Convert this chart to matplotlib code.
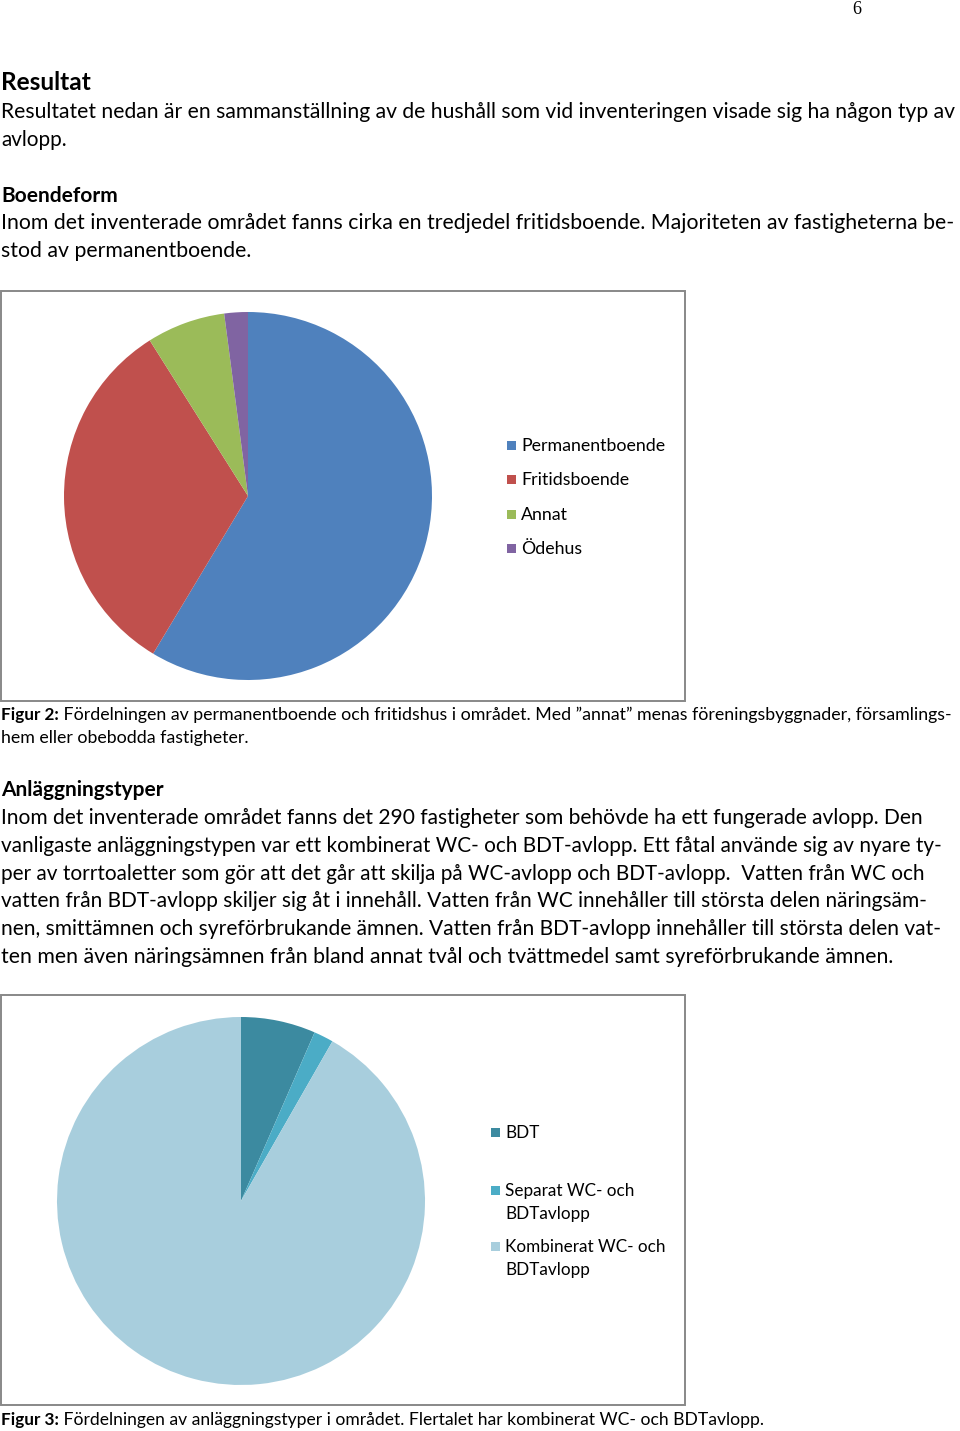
import matplotlib.pyplot as plt
from matplotlib.patches import Rectangle

W, H = 960, 1431
FONT = ['Lato', 'DejaVu Sans']

# Boendeform (antal fastigheter)
boende_labels = ['Permanentboende', 'Fritidsboende', 'Annat', 'Ödehus']
boende_counts = [170, 94, 20, 6]
boende_colors = ['#4F81BD', '#C0504D', '#9BBB59', '#8064A2']

# Anläggningstyper (antal fastigheter)
anl_labels = ['BDT', 'Separat WC- och\nBDTavlopp', 'Kombinerat WC- och\nBDTavlopp']
anl_counts = [19, 5, 266]
anl_colors = ['#3C8AA0', '#4BACC6', '#A8CEDD']

fig = plt.figure(figsize=(W / 100, H / 100), dpi=100)
r = fig.canvas.get_renderer()


def fx(x):
    return x / W


def fy(y):
    return 1 - y / H


def put(x, y, s, size, weight='normal', fit=None, family=FONT, **kw):
    t = fig.text(fx(x), fy(y + 1), s, fontsize=size, fontweight=weight,
                 family=family, va='center', ha='left', **kw)
    if fit:
        w = t.get_window_extent(r).width
        t.set_fontsize(size * fit / w)
    return t


def fitsize(s, size, width):
    t = fig.text(0, 0, s, fontsize=size, family=FONT)
    w = t.get_window_extent(r).width
    t.remove()
    return size * width / w


def caption(y, bold, rest, end):
    b = put(1, y, bold, 12.3, weight='bold')
    x0 = b.get_window_extent(r).x1
    put(x0, y, rest, 11.5, fit=end - x0)


# sidnummer
put(852, 9, '6', 13, family=['Liberation Serif'])

# text
put(1, 82, 'Resultat', 16, weight='bold', fit=90)
put(1, 111, 'Resultatet nedan är en sammanställning av de hushåll som vid inventeringen visade sig ha någon typ av', 14, fit=956)
put(1, 139, 'avlopp.', 14, fit=66)
put(1, 195, 'Boendeform', 14, weight='bold', fit=117)
put(1, 222, 'Inom det inventerade området fanns cirka en tredjedel fritidsboende. Majoriteten av fastigheterna be-', 14, fit=951)
put(1, 250, 'stod av permanentboende.', 14, fit=251)

caption(714, 'Figur 2:', ' Fördelningen av permanentboende och fritidshus i området. Med ”annat” menas föreningsbyggnader, församlings-', 952)
put(1, 737, 'hem eller obebodda fastigheter.', 11.5, fit=247)

put(1, 789, 'Anläggningstyper', 14, weight='bold', fit=164)
body = [
    ('Inom det inventerade området fanns det 290 fastigheter som behövde ha ett fungerade avlopp. Den', 929),
    ('vanligaste anläggningstypen var ett kombinerat WC- och BDT-avlopp. Ett fåtal använde sig av nyare ty-', 947),
    ('per av torrtoaletter som gör att det går att skilja på WC-avlopp och BDT-avlopp.  Vatten från WC och', 928),
    ('vatten från BDT-avlopp skiljer sig åt i innehåll. Vatten från WC innehåller till största delen näringsäm-', 930),
    ('nen, smittämnen och syreförbrukande ämnen. Vatten från BDT-avlopp innehåller till största delen vat-', 945),
    ('ten men även näringsämnen från bland annat tvål och tvättmedel samt syreförbrukande ämnen.', 894),
]
for i, (line, end) in enumerate(body):
    put(1, 817 + i * 27.8, line, 14, fit=end - 1)

caption(1419, 'Figur 3:', ' Fördelningen av anläggningstyper i området. Flertalet har kombinerat WC- och BDTavlopp.', 762)

# ramar kring diagrammen
for top in (291, 995):
    fig.add_artist(Rectangle((fx(1), fy(top + 410)), 684 / W, 410 / H,
                             transform=fig.transFigure, fill=False,
                             edgecolor='#888888', linewidth=1.4))

# diagram 1
ax1 = fig.add_axes([fx(64), fy(680), 368 / W, 368 / H])
w1, _ = ax1.pie(boende_counts, colors=boende_colors, startangle=90,
                counterclock=False, wedgeprops={'linewidth': 0})
ax1.set_xlim(-1, 1)
ax1.set_ylim(-1, 1)

leg1 = fitsize('Permanentboende', 12, 144)
for i, (lab, w) in enumerate(zip(boende_labels, w1)):
    y = 445 + i * 34.3
    fig.add_artist(Rectangle((fx(507), fy(y + 5)), 9 / W, 9 / H,
                             transform=fig.transFigure, color=w.get_facecolor(), lw=0))
    put(521, y, lab, leg1)

# diagram 2
ax2 = fig.add_axes([fx(57), fy(1385), 368 / W, 368 / H])
w2, _ = ax2.pie(anl_counts, colors=anl_colors, startangle=90,
                counterclock=False, wedgeprops={'linewidth': 0})
ax2.set_xlim(-1, 1)
ax2.set_ylim(-1, 1)

leg2 = fitsize('Kombinerat WC- och', 12, 160)
for lab, w, y in zip(anl_labels, w2, (1132, 1190, 1246)):
    fig.add_artist(Rectangle((fx(491), fy(y + 5)), 9 / W, 9 / H,
                             transform=fig.transFigure, color=w.get_facecolor(), lw=0))
    for j, part in enumerate(lab.split('\n')):
        put(505, y + j * 22.5, part, leg2)

fig.savefig('out.png', dpi=100)
